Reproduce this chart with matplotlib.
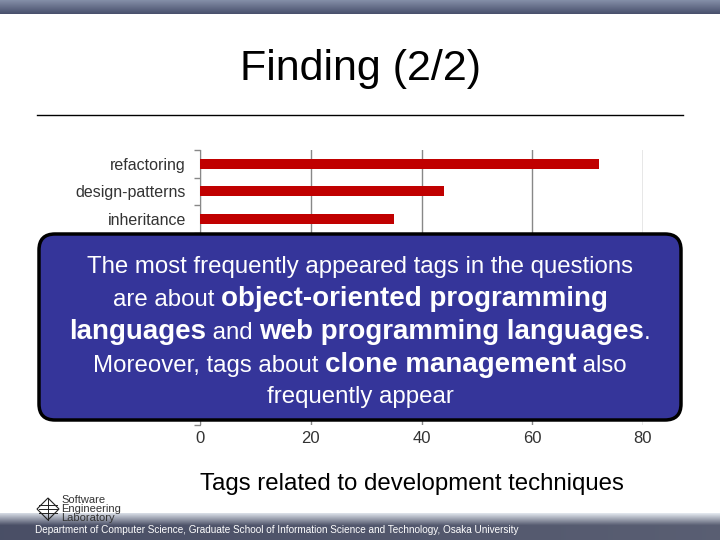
import numpy as np
import matplotlib
matplotlib.use("Agg")
import matplotlib.pyplot as plt
from matplotlib.patches import FancyBboxPatch, Polygon

plt.rcParams['font.family'] = ['Liberation Sans', 'DejaVu Sans']

# data (only the top three bars are visible; the rest sit behind the callout box)
tags = ['refactoring', 'design-patterns', 'inheritance']
counts = [72, 44, 35]
n_slots = 10
xticks = [0, 20, 40, 60, 80]

title = 'Finding (2/2)'
xlabel = 'Tags related to development techniques'
footer = ('Department of Computer Science, Graduate School of Information '
          'Science and Technology, Osaka University')

# callout text: (text, bold) pieces per line, with baseline y in pixels
box_lines = [
    (273, [('The most frequently appeared tags in the questions', False)]),
    (306, [('are about ', False), ('object-oriented programming', True)]),
    (339, [('languages', True), (' and ', False),
           ('web programming languages', True), ('.', False)]),
    (372, [('Moreover, tags about ', False), ('clone management', True),
           (' also', False)]),
    (403, [('frequently appear', False)]),
]

W, H = 720, 540
fig = plt.figure(figsize=(7.2, 5.4), dpi=100)

# ---- chart
ax = fig.add_axes([200 / W, 1 - 425 / H, 443 / W, 275 / H])
ax.barh(range(len(tags)), counts, height=0.35, color='#c00000', zorder=3)
ax.set_xlim(0, 80)
ax.set_ylim(n_slots - 0.5, -0.5)
ax.set_xticks(xticks)
ax.set_xticklabels([str(v) for v in xticks], fontsize=12, color='#333333')
ax.tick_params(axis='x', length=0, pad=4)
ax.set_yticks(range(len(tags)))
ax.set_yticklabels(tags, fontsize=11.5, color='#333333')
ax.tick_params(axis='y', which='major', length=0, pad=10)
ax.set_yticks(np.arange(-0.5, n_slots, 1), minor=True)
ax.tick_params(axis='y', which='minor', length=4, color='#888888', width=1)
ax.xaxis.grid(True, color='#888888', lw=1)
ax.set_axisbelow(True)
for s in ['top', 'right', 'bottom']:
    ax.spines[s].set_visible(False)
ax.spines['left'].set_color('#888888')

# ---- overlay in pixel coords
ov = fig.add_axes([0, 0, 1, 1], zorder=5)
ov.set_xlim(0, W)
ov.set_ylim(H, 0)
ov.axis('off')
ov.patch.set_alpha(0)

# top bar gradient
top = np.linspace(0, 1, 50).reshape(-1, 1)
ov.imshow(np.dstack([np.interp(top, [0, 1], [0.52, 0.28]),
                     np.interp(top, [0, 1], [0.56, 0.31]),
                     np.interp(top, [0, 1], [0.66, 0.42])]),
          extent=[0, W, 14, 0], aspect='auto', zorder=1)

# bottom bar gradient
gy = np.linspace(0, 1, 60).reshape(-1, 1) * np.ones((1, 200))
gx = np.linspace(0, 1, 200).reshape(1, -1) * np.ones((60, 1))
lum = np.clip(1 - gy * 2.2, 0, 1) * 0.55
r = 0.29 + lum + 0.06 * gx
g = 0.31 + lum + 0.06 * gx
b = 0.40 + lum * 0.9 + 0.05 * gx
ov.imshow(np.clip(np.dstack([r, g, b]), 0, 1), extent=[0, W, 540, 513],
          aspect='auto', zorder=1)
ov.text(35, 533, footer, fontsize=7.2, color='white', va='baseline', ha='left',
        zorder=2)

# logo
ov.add_patch(Polygon([[37, 509], [48, 498], [59, 509], [48, 520]], closed=True,
                     fill=False, ec='#222222', lw=0.8, zorder=2))
for yy in (505, 509, 513):
    ov.plot([39, 57], [yy, yy], color='#222222', lw=0.7, zorder=2)
ov.plot([48, 48], [498, 520], color='#222222', lw=0.7, zorder=2)
for i, word in enumerate(['Software', 'Engineering', 'Laboratory']):
    ov.text(61, 500 + i * 9, word, fontsize=8, color='#333333',
            va='center', ha='left', zorder=2)

# title and rule
ov.text(360, 69, title, fontsize=31, ha='center', va='center', color='black')
ov.plot([37, 683], [115, 115], color='black', lw=1)

# x axis label
ov.text(412, 484, xlabel, fontsize=17.3, ha='center', va='center',
        color='black')

# callout box
ov.add_patch(FancyBboxPatch((39, 234), 642, 186,
                            boxstyle='round,pad=0,rounding_size=16',
                            fc='#35359a', ec='black', lw=2.5, zorder=3))

renderer = fig.canvas.get_renderer()
for base_y, pieces in box_lines:
    texts = []
    widths = []
    for txt, bold in pieces:
        t = ov.text(0, base_y, txt, color='white', va='baseline', ha='left',
                    fontsize=20 if bold else 17.3,
                    fontweight='bold' if bold else 'normal', zorder=4)
        bb = t.get_window_extent(renderer=renderer)
        texts.append(t)
        widths.append(bb.width)
    x = 360 - sum(widths) / 2
    for t, w in zip(texts, widths):
        t.set_x(x)
        x += w

fig.savefig('out.png', dpi=100)
